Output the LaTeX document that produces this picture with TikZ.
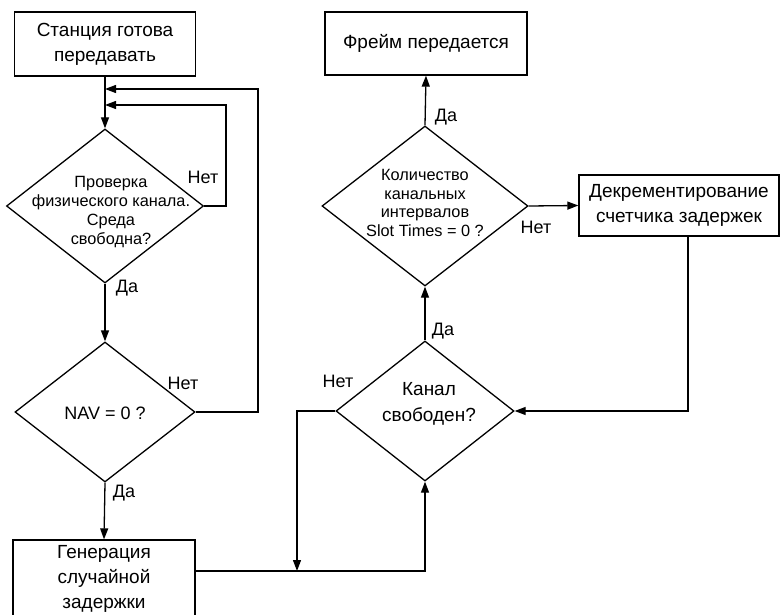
\documentclass[tikz,border=0pt]{standalone}
\usepackage{fontspec}
\setmainfont{Liberation Sans}
\usetikzlibrary{shapes.geometric,arrows.meta}
\begin{document}
\begin{tikzpicture}[x=1pt,y=-1pt,
 line width=1.3pt,
 box/.style={draw,rectangle,inner sep=0pt,align=center,font=\fontsize{19}{25}\selectfont},
 dia/.style={draw,diamond,inner sep=0pt,aspect=1},
 dtext/.style={align=center,inner sep=0pt,font=\fontsize{16.3}{18.7}\selectfont},
 btext/.style={align=center,inner sep=0pt,font=\fontsize{19}{26}\selectfont},
 arr/.style={-{Triangle[length=11pt,width=8pt]}},
 lbl/.style={font=\fontsize{18}{20}\selectfont,inner sep=0pt}]
\useasboundingbox (0,0) rectangle (780,615);

% boxes
\node[box,minimum width=181pt,minimum height=64pt] (s1) at (105,44) {Станция готова\\передавать};
\node[box,minimum width=202pt,minimum height=63pt] (b4) at (426,43.5) {Фрейм передается};
\node[box,minimum width=200pt,minimum height=61pt] (b2) at (679,205.5) {Декрементирование\\счетчика задержек};
\node[draw,rectangle,minimum width=182pt,minimum height=86pt] (b3) at (104,583) {};
\node[btext,font=\fontsize{19}{25}\selectfont] (b3t) at (104,579) {Генерация\\случайной\\задержки};

% diamonds
\node[dia,minimum width=197pt,minimum height=154pt] (d1) at (105,206) {};
\node[dtext] (d1t) at (111,212) {Проверка\\физического канала.\\Среда\\свободна?};
\node[dia,minimum width=180pt,minimum height=140pt] (d2) at (105,412) {};
\node[dtext,font=\fontsize{18}{20}\selectfont] (d2t) at (105,413) {NAV = 0 ?};
\node[dia,minimum width=206pt,minimum height=160pt] (d3) at (425,206) {};
\node[dtext] (d3t) at (425,203) {Количество\\канальных\\интервалов\\Slot Times = 0 ?};
\node[dia,minimum width=178pt,minimum height=140pt] (d4) at (425,411) {};
\node[btext] (d4t) at (429,404) {Канал\\свободен?};

% helper coordinates
\coordinate (j1) at (105,105);
\coordinate (c1) at (226,105);
\coordinate (j2) at (105,89);
\coordinate (c2) at (258,89);
\coordinate (j3) at (297,571);
\coordinate (c4) at (688,411);

% connectors
\draw[arr] (s1.south) -- (d1.north);
\draw[arr] (d1.east) -| (c1) -- (j1);
\draw[arr] (d2.east) -| (c2) -- (j2);
\draw[arr] (d1.south) -- (d2.north);
\draw[arr] (d2.south) -- (b3.north);
\draw[arr] (b3.east |- j3) -| (d4.south);
\draw[arr] (d4.west) -| (j3);
\draw[arr] (d4.north) -- (d3.south);
\draw[arr] (d3.north) -- (b4.south);
\draw[arr] (d3.east) -- (b2.west);
\draw[arr] (b2.south -| c4) -- (c4) -- (d4.east);

% branch labels
\node[lbl] (l1) at (203,177) {Нет};
\node[lbl] (l2) at (127,288) {Да};
\node[lbl] (l3) at (183,383) {Нет};
\node[lbl] (l4) at (124,493) {Да};
\node[lbl] (l5) at (446,117) {Да};
\node[lbl] (l6) at (536,227) {Нет};
\node[lbl] (l7) at (443,331) {Да};
\node[lbl] (l8) at (338,381) {Нет};
\end{tikzpicture}
\end{document}
